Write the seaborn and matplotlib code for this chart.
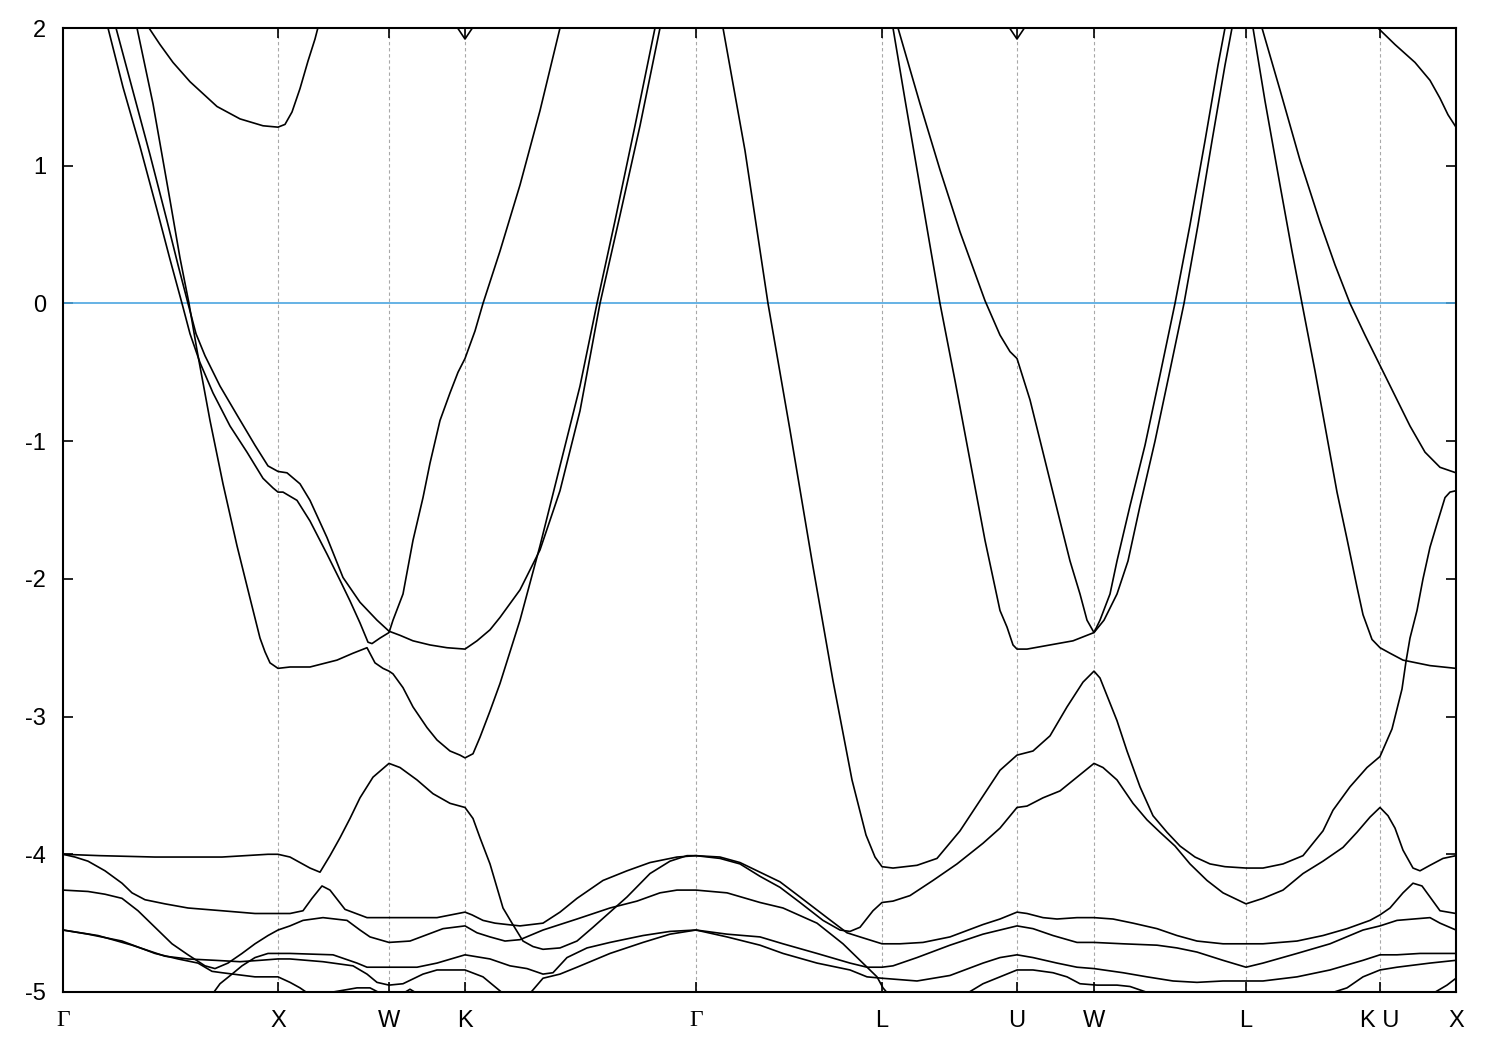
import matplotlib
matplotlib.use("Agg")
import matplotlib.pyplot as plt
import numpy as np
import pandas as pd
import seaborn as sns

# ---------------- data ----------------
# high-symmetry points along the k-path (path coordinate)
sym_k = [0.00, 2.15, 3.26, 4.02, 6.33, 8.19, 9.54, 10.31, 11.83, 13.17, 13.93]
sym_labels = ["Γ", "X", "W", "K", "Γ", "L", "U", "W", "L", "K U", "X"]
energy_ticks = [-5, -4, -3, -2, -1, 0, 1, 2]
fermi_energy = 0.0

band_top_x_k = [0.80, 0.86, 0.97, 1.10, 1.27, 1.42, 1.54, 1.77, 2.00, 2.15, 2.22, 2.29, 2.37, 2.45, 2.52, 2.57]
band_top_x_e = [2.06, 2.00, 1.88, 1.75, 1.61, 1.51, 1.43, 1.34, 1.29, 1.28, 1.30, 1.39, 1.56, 1.76, 1.92, 2.06]

band_c_k = [0.70, 0.74, 0.90, 1.07, 1.17, 1.26, 1.34, 1.47, 1.60, 1.74, 1.87, 1.97, 2.02, 2.07, 2.15, 2.27, 2.47, 2.74,
            2.90, 3.04, 3.12, 3.20, 3.26, 3.30, 3.40, 3.50, 3.64, 3.74, 3.87, 3.97, 4.02, 4.10, 4.17, 4.27, 4.37, 4.57,
            4.77, 4.97, 5.17, 5.34, 5.52, 5.72, 5.92, 5.95]
band_c_e = [2.13, 2.00, 1.45, 0.75, 0.33, 0.00, -0.34, -0.85, -1.31, -1.76, -2.14, -2.43, -2.53, -2.61, -2.65, -2.64,
            -2.64, -2.59, -2.54, -2.50, -2.61, -2.65, -2.67, -2.69, -2.79, -2.93, -3.08, -3.17, -3.25, -3.28, -3.30,
            -3.27, -3.15, -2.96, -2.76, -2.30, -1.76, -1.18, -0.60, 0.00, 0.60, 1.29, 2.00, 2.13]

band_a_k = [0.41, 0.45, 0.60, 0.77, 0.94, 1.07, 1.19, 1.27, 1.37, 1.50, 1.67, 1.84, 2.00, 2.10, 2.15, 2.20, 2.34, 2.47,
            2.64, 2.77, 2.87, 2.97, 3.05, 3.09, 3.17, 3.26, 3.30, 3.40, 3.50, 3.60, 3.67, 3.77, 3.87, 3.95, 4.02, 4.12,
            4.20, 4.37, 4.57, 4.77, 4.97, 5.02]
band_a_e = [2.13, 2.00, 1.57, 1.14, 0.68, 0.32, 0.00, -0.22, -0.43, -0.65, -0.89, -1.08, -1.27, -1.34, -1.37, -1.37,
            -1.43, -1.58, -1.82, -2.01, -2.16, -2.32, -2.46, -2.47, -2.43, -2.39, -2.30, -2.11, -1.72, -1.41, -1.16,
            -0.85, -0.65, -0.50, -0.40, -0.20, 0.00, 0.38, 0.86, 1.40, 2.00, 2.13]

band_b_k = [0.49, 0.53, 0.70, 0.87, 1.04, 1.15, 1.25, 1.33, 1.42, 1.57, 1.74, 1.92, 2.05, 2.15, 2.24, 2.37, 2.47, 2.64,
            2.80, 2.97, 3.14, 3.26, 3.37, 3.50, 3.67, 3.84, 4.02, 4.14, 4.27, 4.37, 4.57, 4.77, 4.97, 5.17, 5.37, 5.57,
            5.77, 5.97, 6.00]
band_b_e = [2.13, 2.00, 1.54, 1.08, 0.60, 0.28, 0.00, -0.22, -0.38, -0.60, -0.81, -1.03, -1.18, -1.22, -1.23, -1.31,
            -1.43, -1.70, -1.99, -2.17, -2.30, -2.38, -2.41, -2.45, -2.48, -2.50, -2.51, -2.45, -2.37, -2.28, -2.08,
            -1.79, -1.36, -0.78, 0.00, 0.64, 1.29, 2.00, 2.13]

band_d1_k = [0.00, 0.37, 0.92, 1.59, 2.05, 2.15, 2.27, 2.37, 2.47, 2.57, 2.67, 2.77, 2.87, 2.97, 3.10, 3.26, 3.37, 3.54,
             3.70, 3.87, 4.02, 4.10, 4.17, 4.27, 4.40, 4.49, 4.60, 4.70, 4.80, 4.97, 5.14, 5.30, 5.47, 5.64, 5.87, 6.07,
             6.24, 6.33, 6.57, 6.77, 6.97, 7.17, 7.37, 7.60, 7.77, 7.87, 7.97, 8.10, 8.19, 8.30, 8.47, 8.70, 8.94, 9.20,
             9.37, 9.54, 9.64, 9.80, 9.97, 10.14, 10.31, 10.40, 10.54, 10.70, 10.84, 10.97, 11.12, 11.27, 11.44, 11.60,
             11.83, 12.00, 12.20, 12.40, 12.60, 12.80, 12.94, 13.07, 13.17, 13.25, 13.32, 13.40, 13.50, 13.57, 13.67,
             13.80, 13.93]
band_d1_e = [-4.00, -4.01, -4.02, -4.02, -4.00, -4.00, -4.02, -4.06, -4.10, -4.13, -4.01, -3.88, -3.74, -3.59, -3.44,
             -3.34, -3.37, -3.46, -3.56, -3.63, -3.66, -3.74, -3.88, -4.07, -4.39, -4.50, -4.63, -4.67, -4.69, -4.68,
             -4.63, -4.53, -4.42, -4.31, -4.14, -4.05, -4.01, -4.01, -4.03, -4.07, -4.16, -4.24, -4.35, -4.48, -4.55,
             -4.56, -4.53, -4.41, -4.35, -4.34, -4.30, -4.19, -4.07, -3.92, -3.81, -3.66, -3.65, -3.59, -3.54, -3.44,
             -3.34, -3.37, -3.46, -3.63, -3.75, -3.84, -3.94, -4.07, -4.19, -4.28, -4.36, -4.32, -4.26, -4.14, -4.05,
             -3.95, -3.84, -3.73, -3.66, -3.72, -3.81, -3.97, -4.10, -4.12, -4.08, -4.03, -4.01]

band_d2_k = [0.00, 0.12, 0.25, 0.42, 0.59, 0.69, 0.82, 1.02, 1.25, 1.59, 1.92, 2.15, 2.27, 2.40, 2.49, 2.59, 2.67, 2.82,
             3.04, 3.26, 3.47, 3.74, 4.02, 4.09, 4.20, 4.32, 4.44, 4.57, 4.80, 4.97, 5.14, 5.40, 5.64, 5.87, 6.14, 6.33,
             6.57, 6.77, 6.97, 7.17, 7.37, 7.64, 7.84, 7.97, 8.19, 8.37, 8.60, 8.87, 9.20, 9.37, 9.54, 9.64, 9.80, 9.94,
             10.14, 10.31, 10.50, 10.70, 10.94, 11.14, 11.34, 11.60, 11.83, 12.00, 12.34, 12.60, 12.84, 13.07, 13.17,
             13.27, 13.40, 13.50, 13.59, 13.67, 13.77, 13.93]
band_d2_e = [-4.00, -4.02, -4.05, -4.12, -4.21, -4.28, -4.33, -4.36, -4.39, -4.41, -4.43, -4.43, -4.43, -4.41, -4.32,
             -4.23, -4.26, -4.40, -4.46, -4.46, -4.46, -4.46, -4.42, -4.44, -4.48, -4.50, -4.51, -4.52, -4.50, -4.42,
             -4.32, -4.19, -4.12, -4.06, -4.02, -4.01, -4.02, -4.06, -4.13, -4.20, -4.31, -4.46, -4.57, -4.60, -4.65,
             -4.65, -4.64, -4.60, -4.51, -4.47, -4.42, -4.43, -4.46, -4.47, -4.46, -4.46, -4.47, -4.50, -4.54, -4.59,
             -4.63, -4.65, -4.65, -4.65, -4.63, -4.59, -4.54, -4.48, -4.44, -4.39, -4.28, -4.21, -4.23, -4.31, -4.41,
             -4.43]

band_d3_k = [0.00, 0.25, 0.42, 0.59, 0.75, 0.92, 1.09, 1.25, 1.42, 1.52, 1.65, 1.79, 1.92, 2.05, 2.15, 2.27, 2.40, 2.60,
             2.84, 2.97, 3.07, 3.26, 3.47, 3.80, 4.02, 4.14, 4.27, 4.42, 4.57, 4.80, 5.14, 5.47, 5.74, 5.97, 6.14, 6.33,
             6.64, 6.97, 7.20, 7.54, 7.80, 7.97, 8.14, 8.20, 8.27, 8.32]
band_d3_e = [-4.26, -4.27, -4.29, -4.32, -4.41, -4.53, -4.65, -4.73, -4.81, -4.83, -4.79, -4.72, -4.65, -4.59, -4.55,
             -4.52, -4.48, -4.46, -4.48, -4.55, -4.60, -4.64, -4.63, -4.54, -4.52, -4.57, -4.60, -4.63, -4.62, -4.55,
             -4.47, -4.39, -4.34, -4.28, -4.26, -4.26, -4.28, -4.35, -4.39, -4.50, -4.65, -4.77, -4.89, -4.97, -5.03,
             -5.08]

band_d4_k = [0.00, 0.35, 0.69, 1.02, 1.25, 1.52, 1.77, 1.97, 2.15, 2.27, 2.60, 2.90, 3.04, 3.14, 3.26, 3.40, 3.60, 3.74,
             4.02, 4.20, 4.40, 4.52, 4.67, 4.80, 4.97, 5.14, 5.47, 5.80, 6.07, 6.33, 6.64, 6.97, 7.20, 7.54, 7.87, 8.04,
             8.19, 8.54, 8.87, 9.20, 9.37, 9.54, 9.70, 9.94, 10.14, 10.31, 10.60, 10.84, 11.10, 11.34, 11.60, 11.83,
             12.00, 12.34, 12.67, 13.00, 13.17, 13.34, 13.57, 13.93]
band_d4_e = [-4.55, -4.59, -4.66, -4.74, -4.76, -4.77, -4.78, -4.77, -4.76, -4.76, -4.78, -4.81, -4.87, -4.93, -4.95,
             -4.94, -4.87, -4.84, -4.84, -4.89, -5.01, -5.06, -5.01, -4.90, -4.87, -4.82, -4.72, -4.64, -4.58, -4.55,
             -4.60, -4.66, -4.72, -4.79, -4.84, -4.89, -4.90, -4.92, -4.88, -4.79, -4.75, -4.73, -4.75, -4.79, -4.82,
             -4.83, -4.86, -4.89, -4.92, -4.93, -4.92, -4.92, -4.92, -4.89, -4.84, -4.77, -4.73, -4.73, -4.72, -4.72]

band_d5_k = [0.00, 0.25, 0.59, 0.92, 1.15, 1.35, 1.49, 1.59, 1.92, 2.15, 2.27, 2.37, 2.45, 2.52]
band_d5_e = [-4.55, -4.58, -4.63, -4.72, -4.76, -4.79, -4.85, -4.86, -4.89, -4.89, -4.93, -4.97, -5.01, -5.06]

band_s_k = [1.45, 1.51, 1.57, 1.69, 1.79, 1.92, 2.05, 2.15, 2.27, 2.70, 2.94, 3.04, 3.26, 3.54, 3.74, 4.02, 4.27, 4.47,
            4.64, 4.80, 4.90, 5.04, 5.24, 5.47, 5.80, 6.07, 6.33, 6.64, 6.97, 7.20, 7.54, 7.87, 8.04, 8.19, 8.30, 8.54,
            8.87, 9.20, 9.37, 9.54, 9.70, 9.90, 10.14, 10.31, 10.60, 10.94, 11.14, 11.34, 11.60, 11.83, 12.00, 12.34,
            12.67, 13.00, 13.17, 13.34, 13.67, 13.77, 13.93]
band_s_e = [-5.06, -5.00, -4.94, -4.87, -4.81, -4.75, -4.72, -4.72, -4.72, -4.73, -4.79, -4.82, -4.82, -4.82, -4.79,
            -4.73, -4.76, -4.81, -4.83, -4.87, -4.86, -4.75, -4.68, -4.64, -4.59, -4.56, -4.55, -4.58, -4.60, -4.65,
            -4.72, -4.79, -4.82, -4.82, -4.81, -4.75, -4.66, -4.58, -4.55, -4.52, -4.54, -4.59, -4.64, -4.64, -4.65,
            -4.66, -4.68, -4.71, -4.77, -4.82, -4.79, -4.72, -4.65, -4.55, -4.52, -4.48, -4.46, -4.50, -4.55]

band_gl_k = [6.57, 6.60, 6.82, 7.05, 7.27, 7.49, 7.70, 7.89, 8.03, 8.12, 8.19, 8.30, 8.54, 8.74, 8.97, 9.17, 9.37, 9.54,
             9.70, 9.87, 10.04, 10.20, 10.31, 10.37, 10.54, 10.64, 10.77, 10.90, 11.04, 11.17, 11.32, 11.47, 11.62,
             11.83, 12.00, 12.20, 12.40, 12.60, 12.70, 12.87, 13.04, 13.17, 13.29, 13.39, 13.43, 13.47, 13.54, 13.60,
             13.67, 13.74, 13.82, 13.87, 13.93]
band_gl_e = [2.13, 2.00, 1.11, 0.00, -0.92, -1.87, -2.74, -3.46, -3.86, -4.02, -4.09, -4.10, -4.08, -4.03, -3.83, -3.61,
             -3.39, -3.28, -3.25, -3.14, -2.93, -2.75, -2.67, -2.72, -3.03, -3.25, -3.51, -3.72, -3.84, -3.94, -4.02,
             -4.07, -4.09, -4.10, -4.10, -4.07, -4.01, -3.83, -3.68, -3.51, -3.37, -3.29, -3.09, -2.80, -2.60, -2.43,
             -2.23, -2.00, -1.77, -1.60, -1.41, -1.37, -1.36]

band_lk1_k = [11.87, 11.90, 12.02, 12.17, 12.29, 12.39, 12.52, 12.67, 12.74, 12.84, 12.94, 13.00, 13.09, 13.17, 13.27,
              13.40, 13.67, 13.93]
band_lk1_e = [2.13, 2.00, 1.47, 0.86, 0.38, 0.00, -0.49, -1.09, -1.37, -1.71, -2.06, -2.26, -2.44, -2.50, -2.54, -2.59,
              -2.63, -2.65]

band_lk2_k = [11.96, 11.99, 12.17, 12.37, 12.57, 12.72, 12.87, 13.02, 13.17, 13.32, 13.47, 13.62, 13.77, 13.93]
band_lk2_e = [2.13, 2.00, 1.55, 1.04, 0.59, 0.28, 0.00, -0.23, -0.45, -0.67, -0.89, -1.08, -1.19, -1.23]

band_lu1_k = [8.27, 8.30, 8.42, 8.55, 8.67, 8.77, 8.92, 9.07, 9.22, 9.37, 9.44, 9.50, 9.54, 9.64, 9.87, 10.10, 10.31,
              10.37, 10.47, 10.54, 10.67, 10.82, 10.97, 11.12, 11.27, 11.42, 11.55, 11.62, 11.65]
band_lu1_e = [2.13, 2.00, 1.48, 0.93, 0.42, 0.00, -0.56, -1.14, -1.72, -2.23, -2.35, -2.48, -2.51, -2.51, -2.48, -2.45,
              -2.39, -2.30, -2.11, -1.87, -1.47, -1.03, -0.52, 0.00, 0.57, 1.18, 1.73, 2.00, 2.13]

band_lu2_k = [8.32, 8.35, 8.57, 8.77, 8.97, 9.12, 9.22, 9.37, 9.47, 9.54, 9.67, 9.82, 9.97, 10.07, 10.17, 10.24, 10.31,
              10.41, 10.54, 10.65, 10.77, 10.92, 11.06, 11.21, 11.35, 11.49, 11.62, 11.69, 11.72]
band_lu2_e = [2.13, 2.00, 1.45, 0.97, 0.52, 0.22, 0.02, -0.23, -0.35, -0.40, -0.70, -1.14, -1.58, -1.87, -2.11, -2.30,
              -2.39, -2.30, -2.11, -1.87, -1.47, -1.00, -0.52, 0.00, 0.57, 1.18, 1.73, 2.00, 2.13]

band_top_x2_k = [13.07, 13.15, 13.32, 13.52, 13.67, 13.77, 13.85, 13.93]
band_top_x2_e = [2.13, 2.00, 1.88, 1.75, 1.62, 1.49, 1.37, 1.28]

band_top_k_k = [3.90, 4.02, 4.14]
band_top_k_e = [2.05, 1.92, 2.05]
band_top_u_k = [9.42, 9.54, 9.66]
band_top_u_e = [2.05, 1.92, 2.05]

band_f_k = [8.97, 9.04, 9.20, 9.37, 9.54, 9.70, 9.90, 10.04, 10.17, 10.34, 10.54, 10.67, 10.87, 10.95]
band_f_e = [-5.06, -5.01, -4.94, -4.89, -4.84, -4.84, -4.86, -4.89, -4.94, -4.95, -4.95, -4.96, -5.01, -5.06]

band_g_k = [12.57, 12.67, 12.84, 13.00, 13.17, 13.34, 13.67, 13.93]
band_g_e = [-5.06, -5.01, -4.97, -4.89, -4.84, -4.82, -4.79, -4.77]

band_h_k = [13.62, 13.70, 13.84, 13.93]
band_h_e = [-5.06, -5.01, -4.95, -4.90]

arc1_k = [2.59, 2.70, 2.94, 3.07, 3.15, 3.22]
arc1_e = [-5.06, -5.00, -4.97, -4.97, -5.00, -5.06]
arc2_k = [3.35, 3.40, 3.47, 3.54, 3.59]
arc2_e = [-5.06, -5.01, -4.98, -5.01, -5.06]
arc3_k = [9.93, 9.99, 10.07, 10.15, 10.21]
arc3_e = [-5.06, -5.02, -5.00, -5.02, -5.06]

bands = {
    "top_x": (band_top_x_k, band_top_x_e), "c": (band_c_k, band_c_e), "a": (band_a_k, band_a_e),
    "b": (band_b_k, band_b_e), "d1": (band_d1_k, band_d1_e), "d2": (band_d2_k, band_d2_e),
    "d3": (band_d3_k, band_d3_e), "d4": (band_d4_k, band_d4_e), "d5": (band_d5_k, band_d5_e),
    "s": (band_s_k, band_s_e), "gl": (band_gl_k, band_gl_e), "lk1": (band_lk1_k, band_lk1_e),
    "lk2": (band_lk2_k, band_lk2_e), "lu1": (band_lu1_k, band_lu1_e), "lu2": (band_lu2_k, band_lu2_e),
    "top_x2": (band_top_x2_k, band_top_x2_e), "top_k": (band_top_k_k, band_top_k_e),
    "top_u": (band_top_u_k, band_top_u_e), "f": (band_f_k, band_f_e), "g": (band_g_k, band_g_e),
    "h": (band_h_k, band_h_e), "arc1": (arc1_k, arc1_e), "arc2": (arc2_k, arc2_e), "arc3": (arc3_k, arc3_e),
}

rows = []
for name, (kk, ee) in bands.items():
    assert len(kk) == len(ee), name
    for i, (k, e) in enumerate(zip(kk, ee)):
        rows.append({"band": name, "order": i, "k": k, "E": e})
df = pd.DataFrame(rows)

# ---------------- plot ----------------
sns.set_theme(style="white")
plt.rcParams["font.family"] = ["Liberation Sans", "DejaVu Sans"]
plt.rcParams["axes.unicode_minus"] = False

fig = plt.figure(figsize=(15, 10.5), dpi=100)
ax = fig.add_axes([63 / 1500, 1 - 992 / 1050, 1393 / 1500, 964 / 1050])

for k in sym_k[1:-1]:
    ax.axvline(k, color="#a8a8a8", lw=0.8, ls=(0, (3, 2.5)), zorder=0)
ax.axhline(fermi_energy, color="#4ba6e0", lw=1.2, zorder=1)

sns.lineplot(data=df, x="k", y="E", units="band", estimator=None, sort=False,
             color="black", lw=1.2, legend=False, ax=ax, zorder=2)

ax.set_xlim(sym_k[0], sym_k[-1])
ax.set_ylim(-5, 2)
ax.set_xticks(sym_k)
ax.set_xticklabels(sym_labels)
ax.set_yticks(energy_ticks)
ax.set_yticklabels([str(t) for t in energy_ticks])
ax.set_xlabel("")
ax.set_ylabel("")

ax.xaxis.set_ticks_position("both")
ax.yaxis.set_ticks_position("both")
ax.tick_params(axis="both", direction="in", length=7, width=1.2, colors="black", labelsize=17)
ax.tick_params(axis="y", pad=12)
ax.tick_params(axis="x", pad=13)
for lab in ax.get_xticklabels():
    if lab.get_text() == "Γ":
        lab.set_family(["Liberation Serif", "DejaVu Serif"])

for sp in ax.spines.values():
    sp.set_visible(True)
    sp.set_color("black")
    sp.set_linewidth(1.5)

ax.grid(False)
fig.savefig("out.png", dpi=100, facecolor="white")
